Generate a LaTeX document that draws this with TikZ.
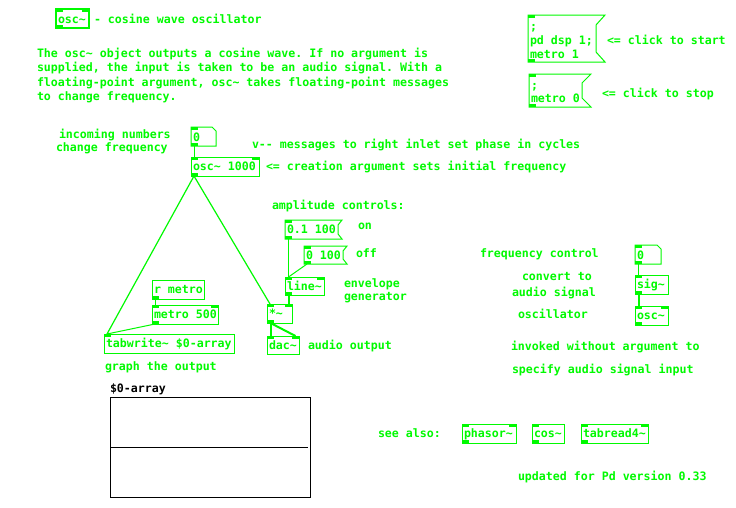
\documentclass[tikz,border=0pt]{standalone}
\usepackage{fontspec}
\newfontfamily\pdfam[Ligatures=TeXOff]{DejaVu Sans Mono}
\usetikzlibrary{calc}
\definecolor{pdg}{RGB}{0,250,0}
\newcommand\pdf{\pdfam\bfseries\fontsize{11.6}{14}\selectfont\frenchspacing}
\newcommand\tl{\textasciitilde}
\tikzset{
  bx/.style={draw=pdg, line width=1pt, inner sep=0pt, outer sep=0pt, anchor=north west},
  hid/.style={draw=none, inner sep=0pt, outer sep=0pt, anchor=north west},
  txt/.style={text=pdg, font=\pdf, inner sep=0pt, outer sep=0pt, anchor=west, text height=8pt, text depth=0pt},
  ctl/.style={draw=pdg, line width=1pt},
  sgl/.style={draw=pdg, line width=2pt},
  outline/.style={draw=pdg, line width=1pt, line join=miter},
}
% name l t r b text
\newcommand\pdbox[6]{%
  \pgfmathsetmacro\bw{#4-#2}\pgfmathsetmacro\bh{#5-#3}%
  \node[bx, minimum width=\bw pt, minimum height=\bh pt] (#1) at (#2,#3) {};%
  \node[txt] (#1-t) at ([xshift=2pt]#1.west) {#6};}
\newcommand\hidbox[5]{%
  \pgfmathsetmacro\bw{#4-#2}\pgfmathsetmacro\bh{#5-#3}%
  \node[hid, minimum width=\bw pt, minimum height=\bh pt] (#1) at (#2,#3) {};}
% message box outline: name, notch depth, notch height
\newcommand\msgshape[3]{%
  \draw[outline] (#1.north west) -- (#1.north east) -- ++(-#2,#3)
    -- ([shift={(-#2pt,#3pt)}]#1.south east) -- (#1.south east) -- (#1.south west) -- cycle;}
\newcommand\numshape[1]{%
  \draw[outline] (#1.north west) -- ([xshift=-4pt]#1.north east) -- ([yshift=-4pt]#1.north east)
    -- (#1.south east) -- (#1.south west) -- cycle;}
\newcommand\inl[1]{\fill[pdg] (#1.north west) rectangle ++(7,3);}
\newcommand\inr[1]{\fill[pdg] (#1.north east) rectangle ++(-7,3);}
\newcommand\outl[1]{\fill[pdg] (#1.south west) rectangle ++(7,-3);}
\begin{document}
\begin{tikzpicture}[x=1pt,y=-1pt]
\useasboundingbox (0,0) rectangle (736,507);
\fill[white] (0,0) rectangle (736,507);

% header
\node[bx, line width=1.5pt, minimum width=33pt, minimum height=19pt] (hdr) at (56,9) {};
\node[txt] (hdr-t) at (58,19) {osc\tl};
\inl{hdr}\inr{hdr}\outl{hdr}
\node[txt] (title) at (94,19) {- cosine wave oscillator};

% paragraph
\node[txt] (p1) at (37,53) {The osc\tl{} object outputs a cosine wave. If no argument is};
\node[txt] (p2) at (37,67.5) {supplied, the input is taken to be an audio signal. With a};
\node[txt] (p3) at (37,82) {floating-point argument, osc\tl{} takes floating-point messages};
\node[txt] (p4) at (37,96.5) {to change frequency.};

% start / stop messages
\hidbox{start}{528}{15}{605}{62}
\msgshape{start}{9}{10}
\inl{start}\outl{start}
\node[txt] (start-1) at (530,26) {;};
\node[txt] (start-2) at (530,40) {pd dsp 1;};
\node[txt] (start-3) at (530,54) {metro 1};
\node[txt] (startlbl) at (607,40) {<= click to start};

\hidbox{stop}{529}{74}{591}{107}
\msgshape{stop}{9}{9}
\inl{stop}\outl{stop}
\node[txt] (stop-1) at (531,85) {;};
\node[txt] (stop-2) at (531,98) {metro 0};
\node[txt] (stoplbl) at (602,93) {<= click to stop};

% left part
\node[txt] (inc1) at (59,134) {incoming numbers};
\node[txt] (inc2) at (56,147) {change frequency};
\hidbox{num1}{191}{127}{216}{146}
\numshape{num1}
\node[txt] (num1-t) at (193,137) {0};
\inl{num1}\outl{num1}
\node[txt] (phase) at (252,144) {v-- messages to right inlet set phase in cycles};

\pdbox{osc1}{191}{157}{259}{176}{osc\tl{} 1000}
\inl{osc1}\inr{osc1}\outl{osc1}
\node[txt] (creat) at (266,166) {<= creation argument sets initial frequency};

\node[txt] (ampl) at (272,205) {amplitude controls:};
\hidbox{mon}{285}{220}{342}{239}
\msgshape{mon}{4}{5}
\node[txt] (mon-t) at (287,229.5) {0.1 100};
\inl{mon}\outl{mon}
\node[txt] (on) at (358,225) {on};

\hidbox{moff}{304}{246}{347}{264}
\msgshape{moff}{4}{5}
\node[txt] (moff-t) at (306,255) {0 100};
\inl{moff}\outl{moff}
\node[txt] (off) at (356,253) {off};

\pdbox{line}{285}{277}{324}{295}{line\tl}
\inl{line}\inr{line}\outl{line}
\node[txt] (env1) at (344,283) {envelope};
\node[txt] (env2) at (344,296) {generator};

\pdbox{mul}{267}{304}{292}{323}{*\tl}
\inl{mul}\inr{mul}\outl{mul}
\pdbox{dac}{267}{336}{299}{354}{dac\tl}
\inl{dac}\inr{dac}
\node[txt] (aout) at (308,345) {audio output};

\pdbox{rmet}{152}{280}{204}{299}{r metro}
\outl{rmet}
\pdbox{met}{152}{305}{218}{324}{metro 500}
\inl{met}\inr{met}\outl{met}
\pdbox{tabw}{104}{334}{234}{353}{tabwrite\tl{} \$0-array}
\inl{tabw}
\node[txt] (graph) at (105,366) {graph the output};

% array
\node[txt, text=black] (arrlbl) at (110,388) {\$0-array};
\node[hid, draw=black, line width=1pt, minimum width=200pt, minimum height=100pt] (arr) at (110,397) {};
\draw[black, line width=1pt] (arr.west) -- ([xshift=-2pt]arr.east);

% right part
\node[txt] (fc) at (480,253) {frequency control};
\node[txt] (cv1) at (522,276) {convert to};
\node[txt] (cv2) at (512,292) {audio signal};
\node[txt] (osl) at (518,314) {oscillator};
\node[txt] (inv1) at (511,346) {invoked without argument to};
\node[txt] (inv2) at (512,369) {specify audio signal input};
\hidbox{num2}{635}{245}{661}{264}
\numshape{num2}
\node[txt] (num2-t) at (637,255) {0};
\inl{num2}\outl{num2}
\pdbox{sig}{635}{275}{668}{294}{sig\tl}
\inl{sig}\outl{sig}
\pdbox{osc2}{635}{306}{668}{325}{osc\tl}
\inl{osc2}\inr{osc2}\outl{osc2}

% see also
\node[txt] (see) at (378,433) {see also:};
\pdbox{phs}{462}{424}{516}{443}{phasor\tl}
\inl{phs}\inr{phs}\outl{phs}
\pdbox{cos}{532}{424}{564}{443}{cos\tl}
\inl{cos}\outl{cos}
\pdbox{tr4}{581}{424}{648}{443}{tabread4\tl}
\inl{tr4}\inr{tr4}\outl{tr4}
\node[txt] (upd) at (518,476) {updated for Pd version 0.33};

% connections
\draw[ctl] ([xshift=3pt]num1.south west) -- ([xshift=3pt]osc1.north west);
\draw[ctl, line width=1.2pt] ([xshift=3pt]osc1.south west) -- ([xshift=3pt]tabw.north west);
\draw[ctl, line width=1.2pt] ([xshift=3pt]osc1.south west) -- ([xshift=3pt]mul.north west);
\draw[ctl] ([xshift=3pt]rmet.south west) -- ([xshift=3pt]met.north west);
\draw[ctl] ([xshift=3pt]met.south west) -- ([xshift=3pt]tabw.north west);
\draw[ctl] ([xshift=3pt]mon.south west) -- ([xshift=3pt]line.north west);
\draw[ctl] ([xshift=3pt]moff.south west) -- ([xshift=3.5pt]line.north west);
\draw[sgl] ([xshift=3.5pt]line.south west) -- ([xshift=-3.5pt]mul.north east);
\draw[sgl] ([xshift=3.5pt]mul.south west) -- ([xshift=3.5pt]dac.north west);
\draw[sgl] ([xshift=3.5pt]mul.south west) -- ([xshift=-3.5pt]dac.north east);
\draw[ctl] ([xshift=3pt]num2.south west) -- ([xshift=3pt]sig.north west);
\draw[sgl] ([xshift=3.5pt]sig.south west) -- ([xshift=3.5pt]osc2.north west);
\end{tikzpicture}
\end{document}
